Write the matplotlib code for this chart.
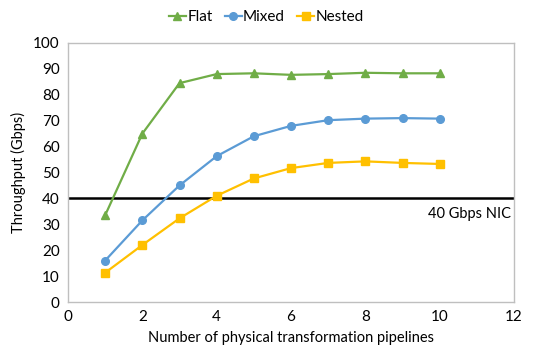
import matplotlib
matplotlib.use('Agg')
import matplotlib.pyplot as plt

plt.rcParams['font.family'] = ['Lato', 'DejaVu Sans']

# Datos
pipelines = [1, 2, 3, 4, 5, 6, 7, 8, 9, 10]
flat = [33.5, 65, 84.5, 88, 88.3, 87.7, 88, 88.5, 88.3, 88.3]
mixed = [16, 31.5, 45, 56.3, 64, 68, 70.2, 70.8, 71, 70.8]
nested = [11.3, 22, 32.3, 41, 47.7, 51.7, 53.7, 54.3, 53.7, 53.3]
nic_limit = 40

fig = plt.figure(figsize=(5.55, 3.56), dpi=100)
ax = fig.add_axes([68 / 555, 1 - 302 / 356, (514 - 68) / 555, (302 - 43) / 356])

ax.plot(pipelines, flat, color='#70AD47', marker='^', markersize=6, lw=1.6, label='Flat')
ax.plot(pipelines, mixed, color='#5B9BD5', marker='o', markersize=5.5, lw=1.6, label='Mixed')
ax.plot(pipelines, nested, color='#FFC000', marker='s', markersize=5.5, lw=1.6, label='Nested')

# Línea del NIC
ax.axhline(nic_limit, color='black', lw=1.8, zorder=1)
ax.text(11.92, nic_limit - 3.3, '40 Gbps NIC', ha='right', va='top', fontsize=10.5)

ax.set_xlim(0, 12)
ax.set_ylim(0, 100)
ax.set_xticks(range(0, 13, 2))
ax.set_yticks(range(0, 101, 10))
ax.tick_params(length=0, labelsize=11, pad=6)
for s in ax.spines.values():
    s.set_color('#BFBFBF')
    s.set_linewidth(1)

ax.set_xlabel('Number of physical transformation pipelines', fontsize=10.5, labelpad=5)
ax.set_ylabel('Throughput (Gbps)', fontsize=10.5, labelpad=5)

fig.legend(loc='upper center', bbox_to_anchor=(0.48, 1.01), ncol=3, frameon=False,
           fontsize=11, handlelength=1.1, handletextpad=0.1, columnspacing=0.8)

fig.savefig('out.png', dpi=100)
